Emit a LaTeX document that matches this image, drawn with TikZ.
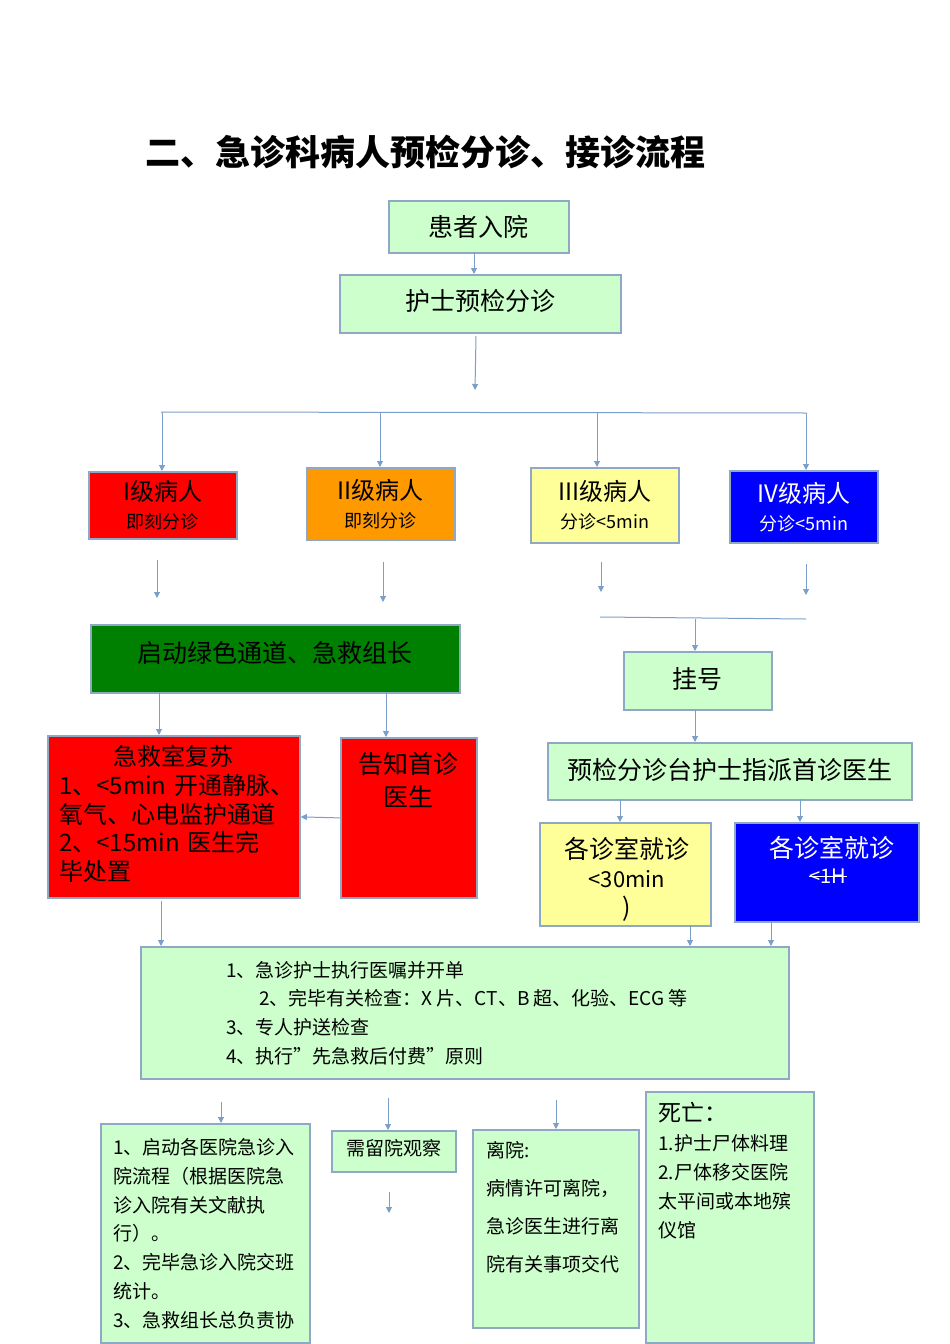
\documentclass[tikz,border=0pt]{standalone}
\usepackage{fontspec}
\setmainfont{Noto Sans CJK SC}
\usetikzlibrary{arrows.meta}
\definecolor{lg}{HTML}{CCFFCC}
\definecolor{bd}{HTML}{8EA8C6}
\definecolor{ar}{HTML}{7B9FC8}
\definecolor{ye}{HTML}{FFFF99}
\definecolor{orng}{HTML}{FF9900}
\definecolor{dg}{HTML}{008000}
\newcommand\myfs[2]{\fontsize{#1}{#2}\selectfont}
\tikzset{
  box/.style={draw=bd, line width=1.8pt, inner sep=0pt, anchor=north west, align=center},
  conn/.style={draw=ar, line width=1pt, -{Triangle[width=6pt,length=6pt]}},
  plain/.style={draw=ar, line width=1pt},
  txt/.style={inner sep=0pt},
}
\begin{document}
\begin{tikzpicture}[x=1pt,y=-1pt]
\fill[white] (0,0) rectangle (950,1344);
\useasboundingbox (0,0) rectangle (950,1344);

% title
\node[txt, anchor=west, font=\myfs{35}{40}\bfseries] (title) at (145,152) {二、急诊科病人预检分诊、接诊流程};

% top boxes
\node[box, fill=lg, minimum width=180pt, minimum height=52pt, font=\myfs{25}{30}] (A) at (388,200) {患者入院};
\node[box, fill=lg, minimum width=281pt, minimum height=58pt, font=\myfs{25}{30}] (B) at (339,274) {护士预检分诊\rule[-8pt]{0pt}{1pt}};
\coordinate (Aout) at (474,252);
\coordinate (Bout) at (476,336);
\coordinate (Bend) at (475,390);
\draw[conn] (Aout) -- (Aout |- B.north);
\draw[conn] (Bout) -- (Bend);

% level row
\coordinate (hl) at (161,412);
\coordinate (hr) at (807,413);
\draw[plain] (hl) -- (hr);
\tikzset{lvl/.style={box, minimum width=148pt, font=\myfs{24}{28}}}
\node[lvl, fill=red, minimum height=67pt] (L1) at (88,471)
  {I级病人\\\myfs{18}{22}即刻分诊};
\node[lvl, fill=orng, minimum height=72pt] (L2) at (306,467)
  {II级病人\\\myfs{18}{22}即刻分诊};
\node[lvl, fill=ye, minimum height=75pt] (L3) at (530,467)
  {III级病人\\\myfs{18}{22}分诊<5min};
\node[lvl, fill=blue, text=white, minimum height=72pt] (L4) at (729,470)
  {IV级病人\\\myfs{18}{22}分诊<5min};
\coordinate (t1) at (162,412);
\coordinate (t2) at (380,412);
\coordinate (t3) at (597,413);
\coordinate (t4) at (806,413);
\draw[conn] (t1) -- (t1 |- L1.north);
\draw[conn] (t2) -- (t2 |- L2.north);
\draw[conn] (t3) -- (t3 |- L3.north);
\draw[conn] (t4) -- (t4 |- L4.north);

% floating arrows below levels
\coordinate (f1a) at (157,560); \coordinate (f1b) at (157,598);
\coordinate (f2a) at (383,562); \coordinate (f2b) at (383,602);
\coordinate (f3a) at (601,562); \coordinate (f3b) at (601,592);
\coordinate (f4a) at (806,564); \coordinate (f4b) at (806,595);
\draw[conn] (f1a) -- (f1b);
\draw[conn] (f2a) -- (f2b);
\draw[conn] (f3a) -- (f3b);
\draw[conn] (f4a) -- (f4b);
\coordinate (ml) at (600,617);
\coordinate (mr) at (806,619);
\draw[plain] (ml) -- (mr);

% green channel
\node[box, fill=dg, minimum width=369pt, minimum height=68pt, font=\myfs{25}{30}] (G) at (90,624)
  {启动绿色通道、急救组长\rule[-14pt]{0pt}{1pt}};
\node[box, fill=lg, minimum width=148pt, minimum height=58pt, font=\myfs{25}{30}] (GH) at (623,651)
  {挂号\rule[-6pt]{0pt}{1pt}};
\coordinate (m1) at (695,619);
\draw[conn] (m1) -- (m1 |- GH.north);
\node[box, fill=lg, minimum width=364pt, minimum height=57pt, font=\myfs{25}{30}] (YJ) at (547,742)
  {预检分诊台护士指派首诊医生\rule[-5pt]{0pt}{1pt}};
\coordinate (g1) at (695,709);
\draw[conn] (g1) -- (g1 |- YJ.north);

% red boxes
\node[box, fill=red, minimum width=252pt, minimum height=162pt] (JJ) at (47,735) {};
\node[txt, anchor=north west, text width=240pt, align=left, font=\myfs{24}{28.7}] (JJt) at (59,745)
  {\makebox[228pt][c]{急救室复苏}\\1、<5min 开通静脉、\\氧气、心电监护通道\\2、<15min 医生完\\毕处置};
\node[box, fill=red, minimum width=136pt, minimum height=160pt] (GZ) at (340,737) {};
\node[txt, anchor=north, align=center, font=\myfs{25}{33}] (GZt) at (408,752)
  {告知首诊\\医生};
\coordinate (gg1) at (159,692);
\coordinate (gg2) at (386,692);
\draw[conn] (gg1) -- (gg1 |- JJ.north);
\draw[conn] (gg2) -- (gg2 |- GZ.north);
\draw[conn] (GZ.west) -- (JJ.east);

% consult rooms
\coordinate (y1) at (620,799);
\coordinate (y2) at (800,799);
\node[box, fill=ye, minimum width=171pt, minimum height=103pt] (Y30) at (539,822) {};
\node[txt, anchor=north, align=center, font=\myfs{25}{29}] (Y30t) at (627,837)
  {各诊室就诊\\\myfs{22}{29}<30min\\)};
\node[box, fill=blue, minimum width=184pt, minimum height=99pt] (B1) at (734,822) {};
\node[txt, text=white, font=\myfs{25}{29}] (B1t) at (832,848) {各诊室就诊};
\node[txt, text=white, font=\myfs{20}{24}] (B1h) at (828,876) {<1H};
\draw[white, line width=1pt] (B1h.west) -- (B1h.east);
\draw[conn] (y1) -- (y1 |- Y30.north);
\draw[conn] (y2) -- (y2 |- B1.north);

% big box
\node[box, fill=lg, minimum width=648pt, minimum height=132pt] (BIG) at (140,946) {};
\tikzset{bt/.style={txt, anchor=west, font=\myfs{19}{24}}}
\node[bt] (b1) at (226,970) {1、急诊护士执行医嘱并开单};
\node[bt] (b2) at (259,998) {2、完毕有关检查：X 片、CT、B 超、化验、ECG 等};
\node[bt] (b3) at (226,1027) {3、专人护送检查};
\node[bt] (b4) at (226,1056) {4、执行”先急救后付费”原则};
\coordinate (k1) at (161,901);
\coordinate (k2) at (690,925);
\coordinate (k3) at (771,921);
\draw[conn] (k1) -- (k1 |- BIG.north);
\draw[conn] (k2) -- (k2 |- BIG.north);
\draw[conn] (k3) -- (k3 |- BIG.north);

% bottom boxes
\node[box, fill=lg, minimum width=209pt, minimum height=219pt] (R1) at (100,1123) {};
\node[txt, anchor=north west, align=left, font=\myfs{19}{28.7}] (R1t) at (113,1138.5)
  {1、启动各医院急诊入\\院流程（根据医院急\\诊入院有关文献执\\行）。\\2、完毕急诊入院交班\\统计。\\3、急救组长总负责协};
\node[box, fill=lg, minimum width=124pt, minimum height=41pt, font=\myfs{19}{24}] (R2) at (331,1130)
  {需留院观察\rule[-8pt]{0pt}{1pt}};
\node[box, fill=lg, minimum width=166pt, minimum height=198pt] (R3) at (472,1129) {};
\node[txt, anchor=north west, align=left, font=\myfs{19}{38}] (R3t) at (486,1141.5)
  {离院:\\病情许可离院，\\急诊医生进行离\\院有关事项交代};
\node[box, fill=lg, minimum width=168pt, minimum height=251pt] (R4) at (645,1091) {};
\node[txt, anchor=west, font=\myfs{23}{28}] (R4h) at (658,1113) {死亡：};
\node[txt, anchor=north west, align=left, font=\myfs{19}{29}] (R4t) at (658,1134.5)
  {1.护士尸体料理\\2.尸体移交医院\\太平间或本地殡\\仪馆};
\coordinate (d1) at (221,1102);
\coordinate (d2) at (388,1098);
\coordinate (d3) at (556,1100);
\coordinate (d4a) at (389,1192);
\coordinate (d4b) at (389,1213);
\draw[conn] (d1) -- (d1 |- R1.north);
\draw[conn] (d2) -- (d2 |- R2.north);
\draw[conn] (d3) -- (d3 |- R3.north);
\draw[conn] (d4a) -- (d4b);
\end{tikzpicture}
\end{document}
